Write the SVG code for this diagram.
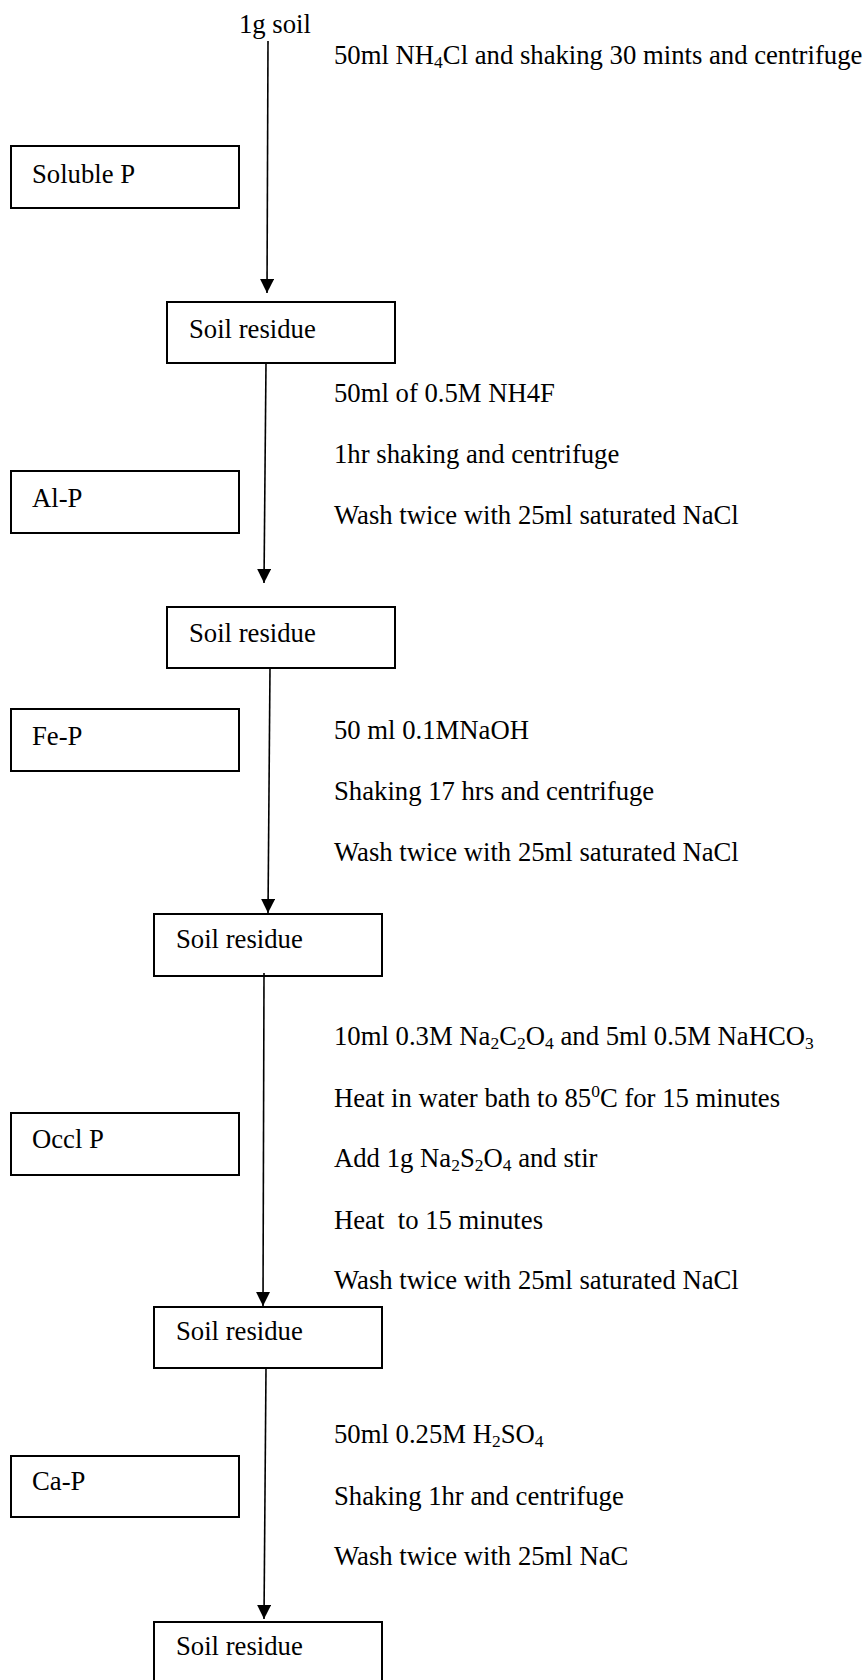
<svg xmlns="http://www.w3.org/2000/svg" width="865" height="1680" viewBox="0 0 865 1680">
<style>
text{font-family:"Liberation Serif","Times New Roman",serif;font-size:26.7px;fill:#000}
.s{font-size:17.5px}
.box{fill:#fff;stroke:#000;stroke-width:2}
.conn line{stroke:#000;stroke-width:1.6}
</style>
<defs>
<marker id="ah" markerUnits="userSpaceOnUse" markerWidth="16" markerHeight="16" refX="14" refY="7" orient="auto">
<path d="M0,0 L14,7 L0,14 Z" fill="#000"/>
</marker>
</defs>
<rect width="865" height="1680" fill="#fff"/>
<g id="start"><text x="239" y="33">1g soil</text></g>
<g id="step1">
<text x="334" y="64">50ml NH<tspan class="s" dy="4">4</tspan><tspan dy="-4">Cl and shaking 30 mints and centrifuge</tspan></text>
</g>
<g id="soluble-p"><rect class="box" x="11" y="146" width="228" height="62"/><text x="32" y="183">Soluble P</text></g>
<g id="residue1"><rect class="box" x="167" y="302" width="228" height="61"/><text x="189" y="338">Soil residue</text></g>
<g id="step2">
<text x="334" y="402">50ml of 0.5M NH4F</text>
<text x="334" y="463">1hr shaking and centrifuge</text>
<text x="334" y="524">Wash twice with 25ml saturated NaCl</text>
</g>
<g id="al-p"><rect class="box" x="11" y="471" width="228" height="62"/><text x="32" y="507">Al-P</text></g>
<g id="residue2"><rect class="box" x="167" y="607" width="228" height="61"/><text x="189" y="642">Soil residue</text></g>
<g id="fe-p"><rect class="box" x="11" y="709" width="228" height="62"/><text x="32" y="745">Fe-P</text></g>
<g id="step3">
<text x="334" y="739">50 ml 0.1MNaOH</text>
<text x="334" y="800">Shaking 17 hrs and centrifuge</text>
<text x="334" y="861">Wash twice with 25ml saturated NaCl</text>
</g>
<g id="residue3"><rect class="box" x="154" y="914" width="228" height="62"/><text x="176" y="948">Soil residue</text></g>
<g id="step4">
<text x="334" y="1045">10ml 0.3M Na<tspan class="s" dy="4">2</tspan><tspan dy="-4">C</tspan><tspan class="s" dy="4">2</tspan><tspan dy="-4">O</tspan><tspan class="s" dy="4">4</tspan><tspan dy="-4"> and 5ml 0.5M NaHCO</tspan><tspan class="s" dy="4">3</tspan></text>
<text x="334" y="1107">Heat in water bath to 85<tspan class="s" dy="-10">0</tspan><tspan dy="10">C for 15 minutes</tspan></text>
<text x="334" y="1167">Add 1g Na<tspan class="s" dy="4">2</tspan><tspan dy="-4">S</tspan><tspan class="s" dy="4">2</tspan><tspan dy="-4">O</tspan><tspan class="s" dy="4">4</tspan><tspan dy="-4"> and stir</tspan></text>
<text x="334" y="1229" style="white-space:pre">Heat  to 15 minutes</text>
<text x="334" y="1289">Wash twice with 25ml saturated NaCl</text>
</g>
<g id="occl-p"><rect class="box" x="11" y="1113" width="228" height="62"/><text x="32" y="1148">Occl P</text></g>
<g id="residue4"><rect class="box" x="154" y="1307" width="228" height="61"/><text x="176" y="1340">Soil residue</text></g>
<g id="step5">
<text x="334" y="1443">50ml 0.25M H<tspan class="s" dy="4">2</tspan><tspan dy="-4">SO</tspan><tspan class="s" dy="4">4</tspan></text>
<text x="334" y="1505">Shaking 1hr and centrifuge</text>
<text x="334" y="1565">Wash twice with 25ml NaC</text>
</g>
<g id="ca-p"><rect class="box" x="11" y="1456" width="228" height="61"/><text x="32" y="1490">Ca-P</text></g>
<g id="residue5"><rect class="box" x="154" y="1622" width="228" height="70"/><text x="176" y="1655">Soil residue</text></g>
<g class="conn" id="connectors">
<line x1="268" y1="41" x2="267" y2="293" marker-end="url(#ah)"/>
<line x1="266" y1="363" x2="264" y2="583" marker-end="url(#ah)"/>
<line x1="270" y1="668" x2="268" y2="913" marker-end="url(#ah)"/>
<line x1="264" y1="973" x2="263" y2="1306" marker-end="url(#ah)"/>
<line x1="266" y1="1368" x2="264" y2="1619" marker-end="url(#ah)"/>
</g>
</svg>
